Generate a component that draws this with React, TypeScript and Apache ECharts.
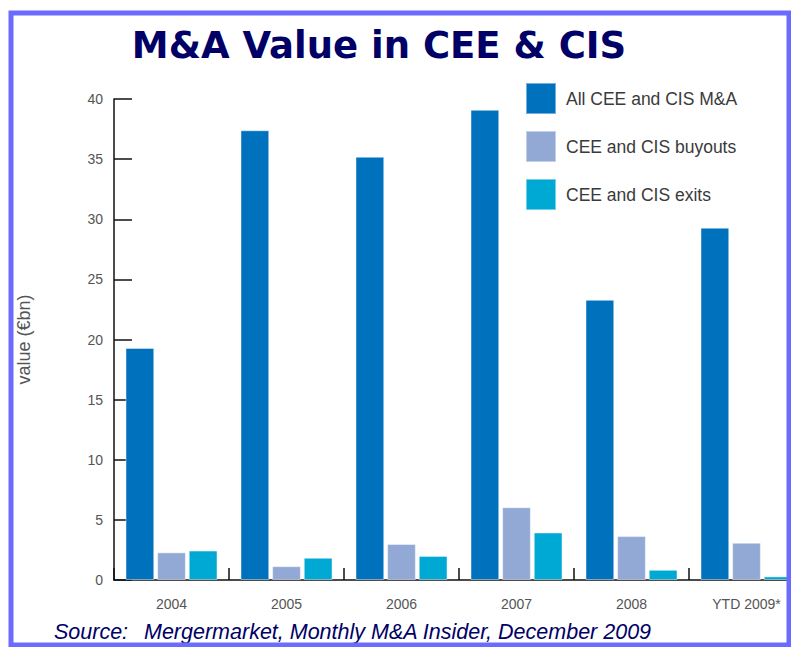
import React, { useEffect, useRef } from "react";
import * as echarts from "echarts";

const categories = ["2004", "2005", "2006", "2007", "2008", "YTD 2009*"];
const allMA = [19.3, 37.4, 35.2, 39.1, 23.3, 29.3];
const buyouts = [2.3, 1.15, 3.0, 6.05, 3.65, 3.1];
const exits = [2.45, 1.85, 2.0, 3.95, 0.85, 0.3];
const seriesNames = ["All CEE and CIS M&A", "CEE and CIS buyouts", "CEE and CIS exits"];
const colors = ["#0071BC", "#93A9D5", "#00A9D4"];

const W = 791;
const H = 647;
const FONT = "'Liberation Sans', Arial, sans-serif";

export default function App() {
  const ref = useRef<HTMLDivElement>(null);
  useEffect(() => {
    document.body.style.margin = "0";
    const chart = echarts.init(ref.current!, null, { renderer: "svg" });
    const data = [allMA, buyouts, exits];
    chart.setOption({
      animation: false,
      backgroundColor: "#ffffff",
      textStyle: { fontFamily: FONT },
      grid: { left: 114, top: 99, width: 690, height: 481, containLabel: false },
      legend: {
        orient: "vertical",
        left: 525,
        top: 82,
        padding: 0,
        itemWidth: 30,
        itemHeight: 31,
        itemGap: 15,
        icon: "rect",
        data: seriesNames,
        textStyle: { fontSize: 17.5, color: "#3a3a3a", fontFamily: FONT, padding: [0, 0, 0, 5] },
      },
      xAxis: {
        type: "category",
        data: categories,
        boundaryGap: true,
        axisLine: { lineStyle: { color: "#111", width: 1.5 } },
        axisTick: { show: true, inside: true, length: 12, alignWithLabel: false, lineStyle: { color: "#111", width: 1.5 } },
        axisLabel: { color: "#555", fontSize: 14, margin: 17, interval: 0 },
        splitLine: { show: false },
      },
      yAxis: {
        type: "value",
        min: 0,
        max: 40,
        interval: 5,
        name: "value (€bn)",
        nameLocation: "middle",
        nameGap: 81,
        nameTextStyle: { color: "#555", fontSize: 18 },
        axisLine: { show: true, lineStyle: { color: "#111", width: 1.5 } },
        axisTick: { show: true, inside: true, length: 18, lineStyle: { color: "#111", width: 1.5 } },
        axisLabel: { color: "#555", fontSize: 14, margin: 11 },
        splitLine: { show: false },
      },
      series: seriesNames.map((name, i) => ({
        name,
        type: "bar",
        data: data[i],
        barCategoryGap: "20%",
        barGap: "10%",
        itemStyle: { color: colors[i], borderColor: "rgba(255,255,255,0.45)", borderWidth: 1 },
      })),
      graphic: [
        {
          type: "text",
          x: 379,
          y: 45,
          z: 10,
          style: {
            text: "M&A Value in CEE & CIS",
            fontFamily: "'DejaVu Sans', sans-serif",
            fontWeight: "bold",
            fontSize: 37,
            fill: "#000066",
            align: "center",
            verticalAlign: "middle",
          },
        },
        {
          type: "text",
          x: 54,
          y: 632,
          z: 10,
          style: {
            text: "Source:",
            fontFamily: FONT,
            fontStyle: "italic",
            fontSize: 21.5,
            fill: "#000066",
            verticalAlign: "middle",
          },
        },
        {
          type: "text",
          x: 144,
          y: 632,
          z: 10,
          style: {
            text: "Mergermarket, Monthly M&A Insider, December 2009",
            fontFamily: FONT,
            fontStyle: "italic",
            fontSize: 21.5,
            fill: "#000066",
            verticalAlign: "middle",
          },
        },
        {
          type: "rect",
          z: 100,
          shape: { x: 11, y: 13, width: 778, height: 632 },
          style: { fill: "none", stroke: "#6B6BFF", lineWidth: 5 },
        },
      ],
    });
    return () => chart.dispose();
  }, []);
  return (
    <div style={{ width: W, height: H, overflow: "hidden", position: "relative" }}>
      <div ref={ref} style={{ width: 810, height: H }} />
    </div>
  );
}
